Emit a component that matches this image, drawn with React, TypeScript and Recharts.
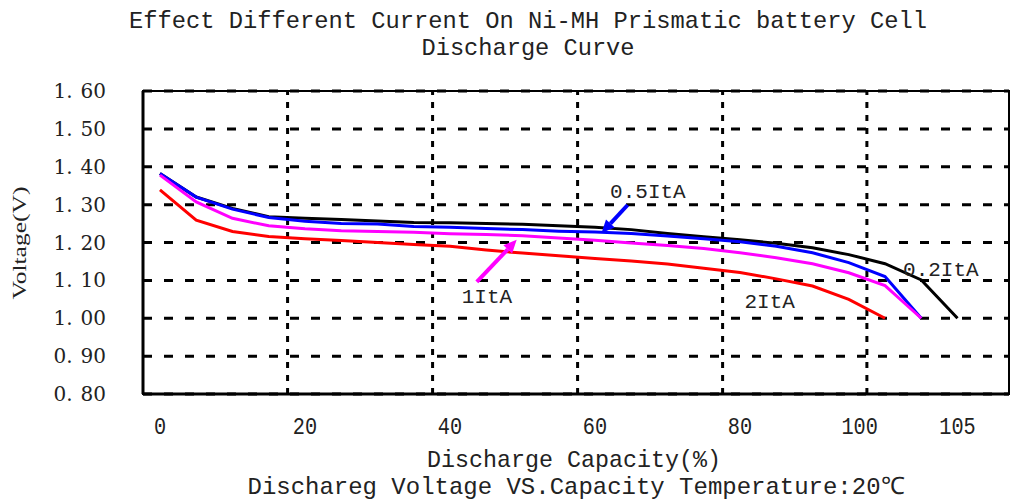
import { LineChart, Line, XAxis, YAxis, CartesianGrid, ReferenceLine, ReferenceDot, ReferenceArea } from 'recharts';

// discharge capacity (%) sampled every 5%
const capacity = [0, 5, 10, 15, 20, 25, 30, 35, 40, 45, 50, 55, 60, 65, 70, 75, 80, 85, 90, 95, 100, 105, 110];

// voltage readings per discharge current
const volt02 = [1.382, 1.32, 1.29, 1.268, 1.264, 1.261, 1.257, 1.253, 1.252, 1.25, 1.248, 1.244, 1.24, 1.234, 1.224, 1.215, 1.207, 1.198, 1.186, 1.168, 1.144, 1.101, 1.0];
const volt05 = [1.382, 1.32, 1.288, 1.266, 1.256, 1.25, 1.249, 1.242, 1.24, 1.237, 1.234, 1.23, 1.228, 1.224, 1.217, 1.21, 1.202, 1.19, 1.173, 1.147, 1.11, 1.0];
const volt1 = [1.378, 1.307, 1.264, 1.244, 1.236, 1.231, 1.229, 1.227, 1.223, 1.221, 1.218, 1.212, 1.206, 1.199, 1.192, 1.184, 1.173, 1.16, 1.144, 1.12, 1.086, 1.0];
const volt2 = [1.339, 1.259, 1.229, 1.216, 1.21, 1.205, 1.2, 1.195, 1.19, 1.18, 1.172, 1.165, 1.158, 1.151, 1.143, 1.132, 1.121, 1.104, 1.085, 1.05, 1.0];

const yTicks = [0.8, 0.9, 1.0, 1.1, 1.2, 1.3, 1.4, 1.5, 1.6];
const xDomain: [number, number] = [-2.34, 117.1];
const gridX = [17.6, 37.6, 57.6, 77.6, 97.5];
const xLabelPos = [0, 20, 40, 60, 80, 96.5, 110];
const xLabels = ['0', '20', '40', '60', '80', '100', '105'];

const toPoints = (vals: number[]) => vals.map((v, i) => ({ x: capacity[i], v }));

const series = [
  { name: '0.2ItA', color: '#000000', data: toPoints(volt02) },
  { name: '0.5ItA', color: '#0000ff', data: toPoints(volt05) },
  { name: '1ItA', color: '#ff00ff', data: toPoints(volt1) },
  { name: '2ItA', color: '#ff0000', data: toPoints(volt2) },
];

const annotations = [
  { text: '0.5ItA', x: 67.3, y: 1.336 },
  { text: '1ItA', x: 45.1, y: 1.061 },
  { text: '2ItA', x: 84.1, y: 1.048 },
  { text: '0.2ItA', x: 107.7, y: 1.13 },
];

const arrows = [
  { color: '#0000ff', from: { x: 64.5, y: 1.299 }, to: { x: 60.9, y: 1.225 } },
  { color: '#ff00ff', from: { x: 43.7, y: 1.096 }, to: { x: 49.2, y: 1.207 } },
];

const mono = '"Liberation Mono", "DejaVu Sans Mono", monospace';
const serif = '"DejaVu Serif", "Liberation Serif", serif';

const YTick = (props: any) => {
  const { x, y, payload } = props;
  const [whole, frac] = payload.value.toFixed(2).split('.');
  return (
    <text x={x} y={y} textAnchor="end" dominantBaseline="central" fontFamily={serif} fontSize={20} fill="#222">
      {whole}.<tspan dx={8}>{frac}</tspan>
    </text>
  );
};

const XTick = (props: any) => {
  const { x, y, payload } = props;
  const label = xLabels[xLabelPos.indexOf(payload.value)];
  return (
    <text x={x} y={y} textAnchor="middle" dominantBaseline="central" fontFamily={mono} fontSize={23}
      fill="#222" transform={`scale(0.88 1) translate(${x / 0.88 - x} 0)`}>
      {label}
    </text>
  );
};

const arrowShape = (color: string) => (p: any) => {
  const { x1, y1, x2, y2 } = p;
  const ang = Math.atan2(y2 - y1, x2 - x1);
  const len = 13;
  const w = 6;
  const bx = x2 - len * Math.cos(ang);
  const by = y2 - len * Math.sin(ang);
  const px = -Math.sin(ang) * w;
  const py = Math.cos(ang) * w;
  return (
    <g>
      <line x1={x1} y1={y1} x2={bx} y2={by} stroke={color} strokeWidth={4} />
      <polygon points={`${x2},${y2} ${bx + px},${by + py} ${bx - px},${by - py}`} fill={color} />
    </g>
  );
};

const App = () => {
  return (
    <div style={{ position: 'absolute', left: 0, top: 0, width: 1013, height: 503, background: '#fff' }}>
      <LineChart width={1013} height={503} margin={{ top: 91, right: 4, left: 0, bottom: 59 }}>
        <CartesianGrid horizontal={true} vertical={false} stroke="#000" strokeWidth={3} strokeDasharray="9 12" />
        <XAxis type="number" dataKey="x" domain={xDomain} ticks={xLabelPos} interval={0} allowDataOverflow
          tickLine={false} tickSize={0} tickMargin={34} height={50} tick={<XTick />}
          axisLine={{ stroke: '#000', strokeWidth: 3 }} />
        <YAxis type="number" domain={[0.8, 1.6]} ticks={yTicks} interval={0} width={143} allowDataOverflow
          tickLine={false} tickSize={0} tickMargin={37} axisLine={{ stroke: '#000', strokeWidth: 3 }} tick={<YTick />} />
        {gridX.map((gx) => (
          <ReferenceLine key={gx} x={gx} stroke="#000" strokeWidth={3} strokeDasharray="6 7" />
        ))}
        <ReferenceArea x1={xDomain[0]} x2={xDomain[1]} y1={0.8} y2={1.6} fill="none"
          stroke="#000" strokeWidth={2} ifOverflow="visible" />
        {series.map((s) => (
          <Line key={s.name} data={s.data} dataKey="v" name={s.name} type="linear"
            stroke={s.color} strokeWidth={3} dot={false} isAnimationActive={false} />
        ))}
        {arrows.map((a, i) => (
          <ReferenceLine key={i} segment={[a.from, a.to]} ifOverflow="visible" shape={arrowShape(a.color)} />
        ))}
        {annotations.map((a) => (
          <ReferenceDot key={a.text} x={a.x} y={a.y} r={0} stroke="none" fill="none" ifOverflow="visible"
            label={{ value: a.text, position: 'center', fill: '#222', fontSize: 21, fontFamily: mono }} />
        ))}
      </LineChart>
      <svg width={1013} height={503} style={{ position: 'absolute', left: 0, top: 0, pointerEvents: 'none' }}>
        <g fill="#222" fontFamily={mono}>
          <text x={528} y={21} textAnchor="middle" dominantBaseline="central" fontSize={24} textLength={798} lengthAdjust="spacingAndGlyphs">
            Effect Different Current On Ni-MH Prismatic battery Cell
          </text>
          <text x={528} y={48} textAnchor="middle" dominantBaseline="central" fontSize={24} textLength={213} lengthAdjust="spacingAndGlyphs">
            Discharge Curve
          </text>
          <text x={574} y={460} textAnchor="middle" dominantBaseline="central" fontSize={24} textLength={294} lengthAdjust="spacingAndGlyphs">
            Discharge Capacity(%)
          </text>
          <text x={576} y={487} textAnchor="middle" dominantBaseline="central" fontSize={24} textLength={657} lengthAdjust="spacingAndGlyphs">
            Dischareg Voltage VS.Capacity Temperature:20℃
          </text>
        </g>
        <text x={20} y={243} transform="rotate(-90 20 243)" textAnchor="middle" dominantBaseline="central"
          fontFamily='"Liberation Serif", serif' fontSize={18} fill="#222" textLength={113} lengthAdjust="spacingAndGlyphs">
          Voltage(V)
        </text>
      </svg>
    </div>
  );
};

export default App;
